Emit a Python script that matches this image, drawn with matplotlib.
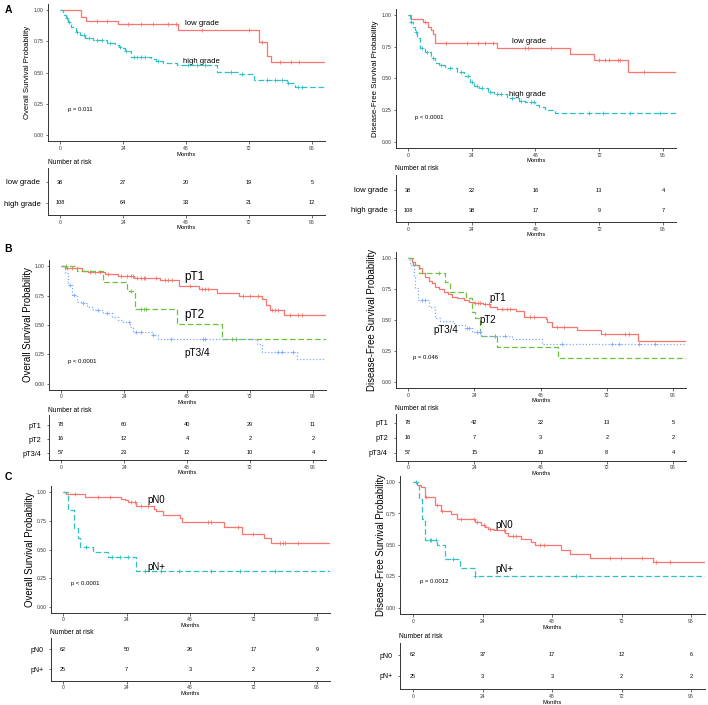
import numpy as np
import matplotlib
matplotlib.use("Agg")
import matplotlib.pyplot as plt

plt.rcParams['font.family'] = ['Liberation Sans', 'DejaVu Sans']

# ---------------------------------------------------------------- data
months_ticks = [0, 24, 48, 72, 96]

# A - grade
os_low_t = [0, 8, 9.9, 22, 45, 75.8, 78.7, 80.3]
os_low_s = [1, .949, .917, .888, .842, .743, .636, .583]
os_low_c = [14, 18, 26, 31, 35.6, 41, 44, 54, 72, 76.8, 83.8, 88, 91]
os_high_t = [0, 1.3, 2.2, 3.2, 4.2, 6, 7.6, 9.5, 12.7, 17.8, 21, 22.5, 23.7, 24.8, 27,
             34.7, 36.6, 39.4, 44.4, 59.7, 68, 74, 86.3, 89.5]
os_high_s = [1, .963, .936, .909, .869, .824, .802, .781, .765, .741, .722, .709, .695, .675, .623,
             .610, .594, .575, .561, .508, .489, .441, .414, .382]
os_high_c = [2.5, 3.5, 6.5, 9, 11, 14, 16, 19, 23, 25, 28.3, 29.5, 31, 32.5, 37.5, 48.9, 52,
             55.2, 65, 69.5, 78.7, 82, 84.4, 87, 90.5, 92]

dfs_low_t = [0, 1.25, 5.5, 7.5, 8.5, 9.5, 10.3, 33.5, 61, 69.9, 82.8]
dfs_low_s = [1, .971, .945, .910, .881, .850, .784, .741, .691, .646, .551]
dfs_low_c = [6.5, 14.4, 22.3, 26.3, 29.1, 32, 44, 45, 54, 71.8, 74, 75.8, 79, 80, 88.7]
dfs_high_t = [0, 0.9, 1.8, 2.5, 3.4, 4.6, 6.3, 8.8, 10.3, 11.5, 14, 18.4, 21, 23.5, 25, 26.9,
              30, 32.2, 37.3, 41.7, 44.2, 48, 49.2, 51.7, 55.5]
dfs_high_s = [1, .95, .910, .865, .818, .739, .712, .660, .620, .607, .580, .554, .522, .470, .438,
              .422, .391, .375, .343, .320, .311, .290, .277, .248, .224]
dfs_high_c = [1.2, 3, 5.2, 7, 9.5, 12.5, 16, 20, 22.5, 24, 26, 28, 31, 33.5, 35, 39, 42.5,
              46.5, 47.5, 68, 73.5, 83.5, 95]

# B - pT
os_pt1_t = [0, 1.5, 8.1, 10.4, 16.8, 21.6, 27.9, 37.7, 45, 52.6, 59.3, 67.8, 76.4, 78, 79.6, 85]
os_pt1_s = [1, .986, .958, .946, .932, .915, .895, .878, .833, .802, .771, .743, .720, .669, .627, .585]
os_pt1_c = [2.2, 4, 11, 13, 15, 18, 23, 25, 26.7, 27.5, 29, 30.3, 31.5, 32, 36, 39.6, 40.9, 42.2,
            49.2, 53.8, 54.9, 56.1, 69.5, 72, 75.2, 80.3, 81.5, 82.8, 87.3, 90.4, 91.7]
os_pt2_t = [0, 6.2, 16.1, 25.3, 28.2, 44.3, 61.4]
os_pt2_s = [1, .958, .867, .79, .635, .505, .38]
os_pt2_c = [1.8, 26.5, 30.5, 31.5, 32.5, 65, 66.5]
os_pt34_t = [0, 1.5, 2.8, 4.1, 6, 7.8, 9.8, 12.3, 16.1, 19.3, 21.8, 23.7, 26.3, 27.6, 34.5,
             37.1, 74.5, 76.4, 90]
os_pt34_s = [1, .938, .839, .754, .698, .684, .655, .627, .599, .571, .542, .528, .486, .438, .415,
             .381, .336, .274, .209]
os_pt34_c = [3.5, 5, 8.5, 14, 17.5, 26, 28.5, 30.5, 35, 42, 54, 55, 82.8, 84, 88.5]

dfs_pt1_t = [0, 1.4, 2.7, 3.9, 5.1, 6.3, 7.5, 8.7, 9.7, 11.1, 12.9, 14.5, 15.9, 17.8, 20.2, 22.2,
             23.8, 27, 29.8, 32.2, 39.1, 41.9, 49.8, 50.4, 52.2, 61.2, 70, 83.3]
dfs_pt1_s = [1, .970, .944, .917, .876, .849, .815, .796, .769, .747, .728, .707, .688, .675, .661,
             .648, .640, .629, .608, .591, .573, .527, .505, .487, .446, .419, .387, .333]
dfs_pt1_c = [24.4, 25.4, 26.2, 28, 29.2, 34, 35.9, 37.1, 44.3, 45.5, 54, 56.4, 71.5, 78.7, 79.9]
dfs_pt2_t = [0, 1.7, 3.9, 13.3, 15.3, 21, 23, 24.2, 26.2, 32.2, 54.2]
dfs_pt2_s = [1, .944, .876, .809, .728, .675, .567, .513, .371, .28, .191]
dfs_pt2_c = [11.1, 31.5]
dfs_pt34_t = [0, 0.8, 2.1, 2.7, 3.6, 7.5, 9.9, 11.7, 16.5, 20.5, 23.2, 26.6, 37.7, 48.6]
dfs_pt34_s = [1, .944, .849, .755, .661, .608, .513, .492, .460, .433, .406, .371, .344, .304]
dfs_pt34_c = [5, 6.3, 21.3, 22.2, 25, 26.2, 31.6, 35.3, 55.8, 73.9, 76.3, 83.6, 89.6]

# C - pN
os_pn0_t = [0, 1.3, 8.4, 22, 23.5, 24.6, 27.7, 34.4, 35.3, 37.8, 44.1, 45, 60.8, 67.6, 75.9, 78.7]
os_pn0_s = [1, .986, .957, .942, .928, .913, .878, .855, .832, .803, .774, .739, .696, .638, .60, .559]
os_pn0_c = [4.4, 13.2, 17.6, 25.8, 27.1, 29.6, 32.1, 54.8, 56.1, 66.1, 71.8, 81.9, 83.1, 83.8, 88.8]
os_pnp_t = [0, 1.9, 4.2, 5.8, 6.6, 11.3, 17.1, 27.4]
os_pnp_s = [1, .843, .684, .597, .524, .481, .432, .313]
os_pnp_c = [8.5, 18.5, 21.5, 24.5, 31, 37, 44, 56, 67, 80]

dfs_pn0_t = [0, 1.5, 2.6, 4, 7.5, 9.6, 13.2, 15.3, 21.5, 23.4, 25, 25.9, 28, 31.6, 32.8, 37.2,
             40.9, 42, 51, 54.1, 61, 82.9]
dfs_pn0_s = [1, .979, .960, .881, .815, .767, .749, .709, .683, .661, .643, .630, .616, .598, .571,
             .550, .524, .497, .458, .431, .397, .365]
dfs_pn0_c = [4.6, 8.3, 10, 16.5, 21, 22.2, 24.5, 26.5, 31.4, 34.5, 35.7, 44, 45.4, 67.9, 71.7,
             79, 83.8, 88.9]
dfs_pnp_t = [0, 2, 3.1, 4.3, 8.4, 10.9, 11.2, 16.1, 21.3]
dfs_pnp_s = [1, .868, .709, .537, .503, .444, .386, .317, .254]
dfs_pnp_c = [1, 5.8, 6.3, 8, 13.8, 21.5, 56.4]

# numbers at risk
risk_a_os = {'low grade': [38, 27, 20, 19, 5], 'high grade': [108, 64, 33, 21, 12]}
risk_a_dfs = {'low grade': [38, 22, 16, 13, 4], 'high grade': [108, 38, 17, 9, 7]}
risk_b_os = {'pT1': [78, 60, 40, 29, 11], 'pT2': [16, 12, 4, 2, 2], 'pT3/4': [57, 23, 12, 10, 4]}
risk_b_dfs = {'pT1': [78, 42, 22, 13, 5], 'pT2': [16, 7, 3, 2, 2], 'pT3/4': [57, 15, 10, 8, 4]}
risk_c_os = {'pN0': [62, 50, 26, 17, 9], 'pN+': [25, 7, 3, 2, 2]}
risk_c_dfs = {'pN0': [62, 37, 17, 12, 6], 'pN+': [25, 3, 3, 2, 2]}

# ---------------------------------------------------------------- styles
RED = '#F8766D'
TEAL = '#2EC0C4'
GREEN = '#6CC13E'
BLUE = '#7FA8FF'
SOLID = (0, ())
DASH = (0, (4.5, 2.2))
DOT = (0, (1, 1.6))

W, H = 708, 705
XLIM = (-4.4, 100.8)
YLIM = (-0.05, 1.05)
OS = 'Overall Survival Probability'
DFS = 'Disease-Free Survival Probability'

fig = plt.figure(figsize=(W / 100, H / 100), dpi=100)


def box(l, t, r, b):
    return [l / W, 1 - b / H, (r - l) / W, (b - t) / H]


def style_axis(ax):
    for sp in ['top', 'right']:
        ax.spines[sp].set_visible(False)
    for sp in ['left', 'bottom']:
        ax.spines[sp].set_linewidth(0.7)
        ax.spines[sp].set_color('#333333')
    ax.tick_params(length=1.8, width=0.5, pad=1.5, labelsize=3.6, colors='#333333')
    ax.set_xlim(*XLIM)
    ax.set_xticks(months_ticks)


def km(ax, t, s, c, color, ls):
    t = np.asarray(t)
    s = np.asarray(s)
    tt = np.append(t, XLIM[1])
    ss = np.append(s, s[-1])
    ax.step(tt, ss, where='post', color=color, lw=0.9, linestyle=ls)
    c = np.asarray(c)
    cy = s[np.searchsorted(t, c, side='right') - 1]
    ax.plot(c, cy, ls='none', marker='+', ms=3.2, mew=0.6, color=color)


def panel(l, r, y1, y0, curves, labels, pval, ylab, ylab_x, ylab_size,
          risk, risk_top, risk_bot, risk_rows, row_size, nar_y):
    # y1/y0: pixel rows of survival 1.00 and 0.00
    sc = (y0 - y1)
    ax = fig.add_axes(box(l, y1 - 0.05 * sc, r, y0 + 0.05 * sc))
    style_axis(ax)
    for t, s, c, col, ls in curves:
        km(ax, t, s, c, col, ls)
    ax.set_ylim(*YLIM)
    ax.set_yticks([0, .25, .5, .75, 1.0])
    ax.set_yticklabels(['0.00', '0.25', '0.50', '0.75', '1.00'])
    ax.set_xlabel('Months', fontsize=4.2, labelpad=0.5)
    for txt, x, y, fs in labels:
        ax.text(x, y, txt, fontsize=fs, ha='center', va='center')
    ax.text(pval[1], pval[2], pval[0], fontsize=4.3, ha='center', va='center')
    fig.text(ylab_x / W, 1 - ((y1 + y0) / 2) / H, ylab, rotation=90,
             fontsize=ylab_size, ha='center', va='center')

    rx = fig.add_axes(box(l, risk_top, r, risk_bot))
    style_axis(rx)
    rx.set_ylim(risk_bot, risk_top)
    rx.set_yticks(risk_rows)
    rx.set_yticklabels(list(risk.keys()), fontsize=row_size, color='black')
    rx.tick_params(axis='y', pad=4)
    for row, vals in zip(risk_rows, risk.values()):
        for x, v in zip(months_ticks, vals):
            rx.text(x, row, str(v), fontsize=4, ha='center', va='center')
    rx.set_xlabel('Months', fontsize=4.2, labelpad=0.5)
    fig.text((l - 1) / W, 1 - nar_y / H, 'Number at risk', fontsize=4.8,
             ha='left', va='center')


# A
panel(48.5, 324.6, 10.3, 135,
      [(os_low_t, os_low_s, os_low_c, RED, SOLID),
       (os_high_t, os_high_s, os_high_c, TEAL, DASH)],
      [('low grade', 54, 0.896, 5.6), ('high grade', 53.7, 0.593, 5.6)],
      ('p = 0.011', 7.6, 0.206), OS, 27.7, 5.6,
      risk_a_os, 168, 215, [182, 203], 5.6, 163)
panel(396.3, 675.7, 15.3, 141.7,
      [(dfs_low_t, dfs_low_s, dfs_low_c, RED, SOLID),
       (dfs_high_t, dfs_high_s, dfs_high_c, TEAL, DASH)],
      [('low grade', 45.5, 0.79, 5.6), ('high grade', 44.8, 0.377, 5.6)],
      ('p < 0.0001', 7.9, 0.195), DFS, 375.7, 5.7,
      risk_a_dfs, 175, 222, [190, 210], 5.6, 169)

# B
panel(49.5, 325.6, 266, 384,
      [(os_pt1_t, os_pt1_s, os_pt1_c, RED, SOLID),
       (os_pt2_t, os_pt2_s, os_pt2_c, GREEN, DASH),
       (os_pt34_t, os_pt34_s, os_pt34_c, BLUE, DOT)],
      [('pT1', 50.7, 0.909, 8.5), ('pT2', 50.7, 0.585, 8.5), ('pT3/4', 51.7, 0.26, 7.2)],
      ('p < 0.0001', 8.1, 0.189), OS, 27.7, 6.9,
      risk_b_os, 415, 460, [425, 439, 453], 5.3, 411)
panel(395.9, 686.3, 258, 382,
      [(dfs_pt1_t, dfs_pt1_s, dfs_pt1_c, RED, SOLID),
       (dfs_pt2_t, dfs_pt2_s, dfs_pt2_c, GREEN, DASH),
       (dfs_pt34_t, dfs_pt34_s, dfs_pt34_c, BLUE, DOT)],
      [('pT1', 32.6, 0.675, 7), ('pT2', 29, 0.5, 7), ('pT3/4', 13.5, 0.419, 7)],
      ('p = 0.046', 6.3, 0.199), DFS, 372.3, 6.9,
      risk_b_dfs, 414, 460.7, [423, 438, 453], 5.3, 409)

# C
panel(51.4, 329.7, 492, 607,
      [(os_pn0_t, os_pn0_s, os_pn0_c, RED, SOLID),
       (os_pnp_t, os_pnp_s, os_pnp_c, TEAL, DASH)],
      [('pN0', 35.3, 0.928, 7), ('pN+', 35.3, 0.348, 7)],
      ('p < 0.0001', 8.4, 0.203), OS, 30, 6.9,
      risk_c_os, 638.3, 680.7, [649, 669], 5.0, 633)
panel(400.3, 704.9, 482, 608,
      [(dfs_pn0_t, dfs_pn0_s, dfs_pn0_c, RED, SOLID),
       (dfs_pnp_t, dfs_pnp_s, dfs_pnp_c, TEAL, DASH)],
      [('pN0', 31.4, 0.661, 7), ('pN+', 31.4, 0.312, 7)],
      ('p = 0.0012', 7.3, 0.212), DFS, 381.3, 6.9,
      risk_c_dfs, 642.7, 689.3, [655, 676], 5.0, 636)

# panel letters
for letter, y in [('A', 10), ('B', 249), ('C', 477)]:
    fig.text(8 / W, 1 - y / H, letter, fontsize=7.5, fontweight='bold',
             ha='center', va='center')

fig.savefig('out.png', dpi=100)
